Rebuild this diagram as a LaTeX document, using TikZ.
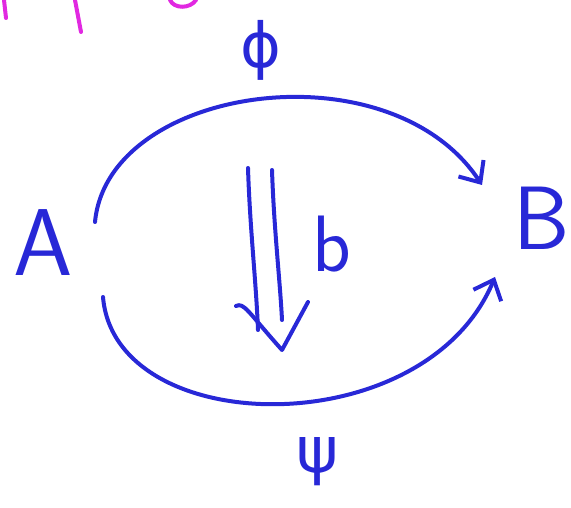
\documentclass[tikz,border=0pt]{standalone}
\usepackage{fontspec}
\newfontfamily\grk{DejaVu Sans}
\usetikzlibrary{arrows.meta}
\definecolor{pen}{RGB}{40,40,215}
\definecolor{pinkpen}{RGB}{225,40,225}
\tikzset{
  ink/.style={draw=pen, line width=4pt, line cap=round, line join=round},
  pinkink/.style={draw=pinkpen, line width=4pt, line cap=round},
  lab/.style={text=pen, inner sep=0pt},
  tip/.style={-{Straight Barb[length=17pt,width=30pt,line width=4pt]}}
}
\begin{document}
\begin{tikzpicture}[x=1pt,y=-1pt]
\useasboundingbox (0,0) rectangle (571,508);
% pink cut-off strokes
\draw[pinkink] (4,0) -- (6,18);
\draw[pinkink] (75,0) -- (81,32);
\draw[pinkink] (170,0) .. controls (174,9) and (190,9) .. (196,0);
% objects
\node[lab, font=\fontsize{95}{95}\selectfont\sffamily] (A) at (43,243) {A};
\node[lab, font=\fontsize{90}{90}\selectfont\sffamily] (B) at (542,218) {B};
\node[lab, font=\fontsize{62}{62}\selectfont\grk] (phi) at (261,50) {ϕ};
\node[lab, font=\fontsize{64}{64}\selectfont\grk] (psi) at (318,462) {ψ};
\node[lab, font=\fontsize{80}{80}\selectfont\sffamily] (b) at (332,244) {b};
% connector ends
\coordinate (As) at (95,222);
\coordinate (Ai) at (103,297);
\coordinate (Bs) at (482,185);
\coordinate (Bi) at (495,277);
% arrows
\draw[ink, tip] (As) .. controls (108,85) and (390,45) .. (Bs);
\draw[ink, tip] (Ai) .. controls (115,440) and (425,445) .. (Bi);
% 2-cell
\coordinate (l1) at (248,168);
\coordinate (l2) at (258,330);
\coordinate (r1) at (272,170);
\coordinate (r2) at (282,320);
\coordinate (hl) at (236,306);
\coordinate (hv) at (282,350);
\coordinate (hr) at (308,302);
\draw[ink] (l1) .. controls (250,230) and (256,280) .. (l2);
\draw[ink] (r1) .. controls (274,230) and (280,280) .. (r2);
\draw[ink] (hl) .. controls (244,302) and (248,312) .. (hv) -- (hr);
\end{tikzpicture}
\end{document}
